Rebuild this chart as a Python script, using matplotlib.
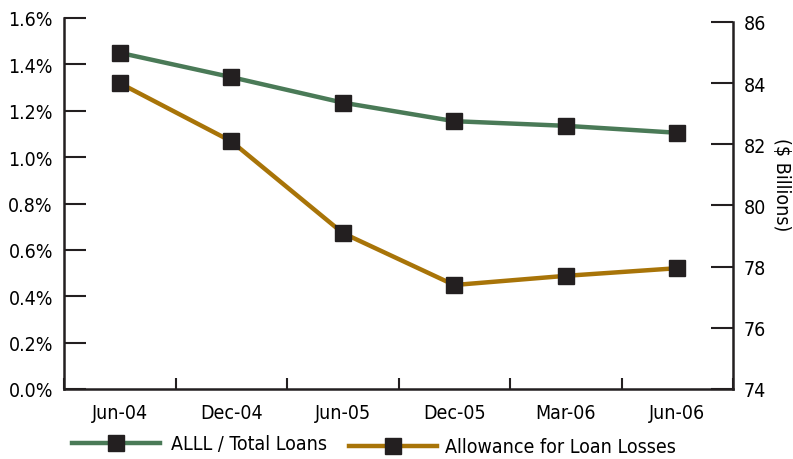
import matplotlib
matplotlib.use("Agg")
import matplotlib.pyplot as plt
from matplotlib.lines import Line2D
from matplotlib.ticker import FuncFormatter

plt.rcParams['font.family'] = ['DejaVu Sans']
plt.rcParams['font.stretch'] = 'condensed'

categories = ["Jun-04", "Dec-04", "Jun-05", "Dec-05", "Mar-06", "Jun-06"]
alll_ratio = [1.45, 1.345, 1.235, 1.155, 1.135, 1.105]
allowance = [84.0, 82.1, 79.1, 77.4, 77.7, 77.95]

green = "#4a7a57"
orange = "#a87408"
mk = "#231f20"
fs = 14

fig = plt.figure(figsize=(7.93, 4.6), dpi=100)
ax = fig.add_axes([64/793, 1-390/460, (733-64)/793, (390-19)/460])
ax2 = ax.twinx()

x = list(range(len(categories)))
ax.plot(x, alll_ratio, color=green, lw=3.2, marker='s', ms=11, mfc=mk, mec=mk, zorder=3)
ax2.plot(x, allowance, color=orange, lw=3.2, marker='s', ms=11, mfc=mk, mec=mk, zorder=3)

ax.set_xlim(-0.5, len(categories) - 0.5)
ax.set_ylim(0, 1.6)
ax.set_yticks([0, 0.2, 0.4, 0.6, 0.8, 1.0, 1.2, 1.4, 1.6])
ax.yaxis.set_major_formatter(FuncFormatter(lambda v, p: f"{v:.1f}%"))
ax2.set_ylim(74, 86 + 4/30.6)
ax2.set_yticks([74, 76, 78, 80, 82, 84, 86])

ax.set_xticks([i - 0.5 for i in range(len(categories) + 1)])
ax.set_xticklabels([])
ax.set_xticks(x, minor=True)
ax.set_xticklabels(categories, minor=True)
ax.tick_params(axis='x', which='minor', length=0, pad=10, labelsize=fs)
ax.tick_params(axis='x', which='major', direction='in', length=8, width=1.5, color='#231f20')
ax.tick_params(axis='y', direction='in', length=16, width=1.5, color='#231f20', labelsize=fs, pad=8)
ax2.tick_params(axis='y', direction='in', length=16, width=1.5, color='#231f20', labelsize=fs, pad=8)

for a in (ax, ax2):
    a.spines['top'].set_visible(False)
    for s in ('left', 'right', 'bottom'):
        a.spines[s].set_linewidth(1.8)
        a.spines[s].set_color('#231f20')
ax.spines['right'].set_visible(False)
ax2.spines['left'].set_visible(False)
ax2.spines['bottom'].set_visible(False)
ax2.spines['right'].set_bounds(74, 86)

ax2.set_ylabel("($ Billions)", fontsize=fs, rotation=270, va='center')
ax2.yaxis.set_label_coords(1.073, 0.553)

h1 = Line2D([], [], color=green, lw=3.2, marker='s', ms=11, mfc=mk, mec=mk)
h2 = Line2D([], [], color=orange, lw=3.2, marker='s', ms=11, mfc=mk, mec=mk)
fig.legend([h1], ["ALLL / Total Loans"], loc='center left',
           bbox_to_anchor=(72/793, 1-445/460), frameon=False,
           handlelength=4.5, handletextpad=0.6, fontsize=fs, borderpad=0, borderaxespad=0)
fig.legend([h2], ["Allowance for Loan Losses"], loc='center left',
           bbox_to_anchor=(349/793, 1-448/460), frameon=False,
           handlelength=4.5, handletextpad=0.45, fontsize=fs, borderpad=0, borderaxespad=0)

fig.savefig("out.png", dpi=100)
